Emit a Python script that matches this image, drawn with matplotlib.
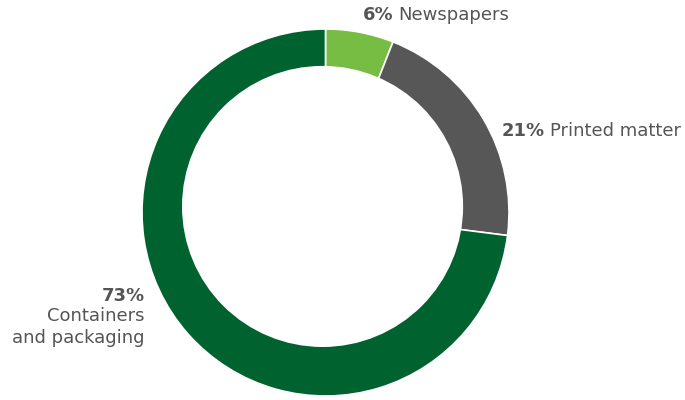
import matplotlib
matplotlib.use("Agg")
import matplotlib.pyplot as plt
from matplotlib.patches import Circle

labels = ["Newspapers", "Printed matter", "Containers\nand packaging"]
percents = [6, 21, 73]
colors = ["#77bd43", "#575757", "#00632f"]

plt.rcParams["font.family"] = ["DejaVu Sans"]
TEXT = "#555555"
W, H = 685, 400

fig = plt.figure(figsize=(6.85, 4.0), dpi=100)
cx, cy, r = 325.5, 212.5, 183.5
ax = fig.add_axes([(cx - r) / W, (H - cy - r) / H, 2 * r / W, 2 * r / H])
ax.pie(percents, colors=colors, startangle=90, counterclock=False,
       wedgeprops=dict(edgecolor="white", linewidth=1.2))
# the hole sits slightly up and left of the ring centre in the original
ax.add_patch(Circle((-0.016, 0.033), 0.766, facecolor="white", edgecolor="none", zorder=5))
ax.set_xlim(-1, 1)
ax.set_ylim(-1, 1)
ax.set_aspect("equal")

renderer = fig.canvas.get_renderer()


def pair(x, y, pct, name, size=13):
    # bold percent followed by the regular label, left aligned at pixel x
    t = fig.text(x / W, 1 - y / H, f"{pct}%", fontsize=size, fontweight="bold",
                 color=TEXT, va="center", ha="left")
    bb = t.get_window_extent(renderer)
    fig.text((bb.x1 + 5) / W, 1 - y / H, name, fontsize=size, color=TEXT,
             va="center", ha="left")


pair(363, 15, percents[0], labels[0])
pair(502, 131, percents[1], labels[1])

fig.text(145 / W, 1 - 296 / H, f"{percents[2]}%", fontsize=13, fontweight="bold",
         color=TEXT, ha="right", va="center")
fig.text(145 / W, 1 - 327 / H, labels[2], fontsize=13, color=TEXT, ha="right",
         va="center", multialignment="right", linespacing=1.25)

fig.savefig("out.png", dpi=100, facecolor="white")
